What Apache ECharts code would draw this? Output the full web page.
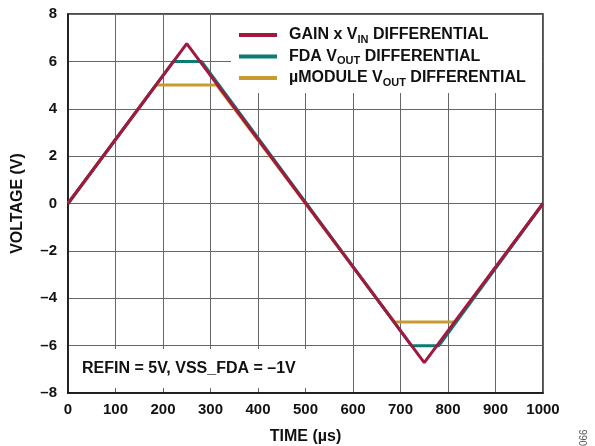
<!DOCTYPE html>
<html>
<head>
<meta charset="utf-8">
<script src="https://cdn.jsdelivr.net/npm/echarts@6/dist/echarts.min.js"></script>
<style>html,body{margin:0;padding:0;background:#fff}#c{width:595px;height:446px}</style>
</head>
<body>
<div id="c"></div>
<script>
// Data
var seriesNames = ['GAIN x VIN DIFFERENTIAL', 'FDA VOUT DIFFERENTIAL', 'µMODULE VOUT DIFFERENTIAL'];
var gainTime = [0, 250, 750, 1000];
var gainV = [0, 6.75, -6.72, 0];
var fdaTime = [0, 222, 281, 723, 781, 1000];
var fdaV = [0, 6, 6, -6, -6, 0];
var umodTime = [0, 185, 313, 687, 815, 1000];
var umodV = [0, 5, 5, -5, -5, 0];
var xTicks = [0, 100, 200, 300, 400, 500, 600, 700, 800, 900, 1000];
var yTicks = [-8, -6, -4, -2, 0, 2, 4, 6, 8];
var note = 'REFIN = 5V, VSS_FDA = \u20131V';

function pairs(t, v) { return t.map(function (x, i) { return [x, v[i]]; }); }

var FONT = "'Liberation Sans', Arial, sans-serif";
var chart = echarts.init(document.getElementById('c'), null, {renderer: 'canvas'});
var legendFmt = {};
legendFmt[seriesNames[0]] = '{p|}{b|GAIN x V}{s|IN}{b| DIFFERENTIAL}';
legendFmt[seriesNames[1]] = '{p|}{b|FDA V}{s|OUT}{b| DIFFERENTIAL}';
legendFmt[seriesNames[2]] = '{p|}{b|µMODULE V}{s|OUT}{b| DIFFERENTIAL}';

chart.setOption({
  animation: false,
  backgroundColor: '#fff',
  grid: {left: 68, right: 52, top: 14, bottom: 53, show: true, borderColor: '#111', borderWidth: 1.5,
    backgroundColor: 'transparent', containLabel: false, outerBoundsMode: 'none'},
  xAxis: {
    type: 'value', min: 0, max: 1000, interval: 100,
    name: 'TIME (µs)', nameLocation: 'middle', nameGap: 36,
    nameTextStyle: {fontFamily: FONT, fontWeight: 'bold', fontSize: 16, color: '#111'},
    axisLine: {show: true, onZero: false, lineStyle: {color: '#111', width: 1.5}},
    axisTick: {show: false},
    axisLabel: {fontFamily: FONT, fontWeight: 'bold', fontSize: 15, color: '#111', margin: 9,
      formatter: function (v) { return xTicks.indexOf(v) >= 0 ? String(v) : ''; }},
    splitLine: {show: true, lineStyle: {color: '#666', width: 1}}
  },
  yAxis: {
    type: 'value', min: -8, max: 8, interval: 2,
    name: 'VOLTAGE (V)', nameLocation: 'middle', nameGap: 42, nameRotate: 90,
    nameTextStyle: {fontFamily: FONT, fontWeight: 'bold', fontSize: 16, color: '#111'},
    axisLine: {show: true, onZero: false, lineStyle: {color: '#111', width: 1.5}},
    axisTick: {show: false},
    axisLabel: {fontFamily: FONT, fontWeight: 'bold', fontSize: 15, color: '#111', margin: 11,
      formatter: function (v) { return yTicks.indexOf(v) >= 0 ? String(v).replace('-', '\u2013') : ''; }},
    splitLine: {show: true, lineStyle: {color: '#666', width: 1}}
  },
  legend: {
    orient: 'vertical', left: 239, top: 27, padding: 0, itemGap: 3.5,
    itemWidth: 38, itemHeight: 4, icon: 'rect',
    data: seriesNames,
    formatter: function (n) { return legendFmt[n]; },
    textStyle: {
      fontFamily: FONT, fontWeight: 'bold', fontSize: 16, color: '#111',
      rich: {
        p: {width: 7},
        b: {fontFamily: FONT, fontWeight: 'bold', fontSize: 16, color: '#111', lineHeight: 20, verticalAlign: 'middle'},
        s: {fontFamily: FONT, fontWeight: 'bold', fontSize: 11, color: '#111', lineHeight: 11, verticalAlign: 'bottom'}
      }
    }
  },
  graphic: [
    {type: 'rect', z: 1, shape: {x: 231, y: 15, width: 311, height: 78}, style: {fill: '#fff'}},
    {type: 'rect', z: 1, shape: {x: 69, y: 349, width: 241, height: 39}, style: {fill: '#fff'}},
    {type: 'text', z: 5, left: 82, top: 361, style: {text: note, font: 'bold 16px ' + FONT, fill: '#111'}},
    {type: 'text', z: 5, x: 579, y: 446, rotation: Math.PI / 2, style: {text: '066', font: '10px ' + FONT, fill: '#555', textAlign: 'left', textVerticalAlign: 'top'}}
  ],
  series: [
    {name: seriesNames[2], type: 'line', data: pairs(umodTime, umodV), symbol: 'none', z: 2,
      lineStyle: {color: '#C99A30', width: 3}, itemStyle: {color: '#C99A30'}},
    {name: seriesNames[1], type: 'line', data: pairs(fdaTime, fdaV), symbol: 'none', z: 3,
      lineStyle: {color: '#0B7C73', width: 3}, itemStyle: {color: '#0B7C73'}},
    {name: seriesNames[0], type: 'line', data: pairs(gainTime, gainV), symbol: 'none', z: 4,
      lineStyle: {color: '#A3183F', width: 3}, itemStyle: {color: '#A3183F'}}
  ]
});
</script>
</body>
</html>
